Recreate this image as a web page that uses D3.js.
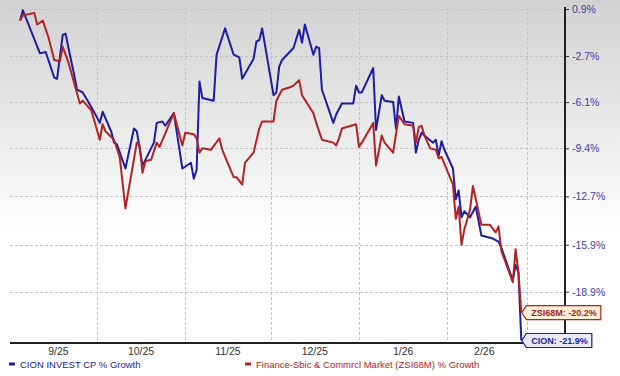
<!DOCTYPE html>
<html>
<head>
<meta charset="utf-8">
<script src="https://cdn.jsdelivr.net/npm/d3@7"></script>
<style>
  html, body { margin: 0; padding: 0; background: #fff; }
  svg { display: block; font-family: "Liberation Sans", Arial, sans-serif; }
</style>
</head>
<body>
<svg id="chart" width="620" height="376"></svg>
<script>
/* Data */
var tickValues = [0.9, -2.7, -6.1, -9.4, -12.7, -15.9, -18.9];
var monthStarts = ["2025-09-01", "2025-10-01", "2025-11-01", "2025-12-01", "2026-01-01", "2026-02-01", "2026-03-01"];
var monthLabels = ["9/25", "10/25", "11/25", "12/25", "1/26", "2/26"];
var seriesNames = ["CION INVEST CP % Growth", "Finance-Sbic & Commrcl Market (ZSI68M) % Growth"];
var shortNames = ["CION", "ZSI68M"];

var cionDates = ["2025-09-04", "2025-09-05", "2025-09-11", "2025-09-13", "2025-09-16", "2025-09-17", "2025-09-19", "2025-09-20",
    "2025-09-21", "2025-09-23", "2025-09-24", "2025-09-26", "2025-09-28", "2025-10-01", "2025-10-02", "2025-10-03",
    "2025-10-06", "2025-10-07", "2025-10-08", "2025-10-11", "2025-10-14", "2025-10-15", "2025-10-17", "2025-10-21",
    "2025-10-22", "2025-10-24", "2025-10-25", "2025-10-28", "2025-10-31", "2025-11-03", "2025-11-04", "2025-11-05",
    "2025-11-06", "2025-11-07", "2025-11-11", "2025-11-12", "2025-11-15", "2025-11-18", "2025-11-20", "2025-11-21",
    "2025-11-25", "2025-11-26", "2025-11-27", "2025-11-28", "2025-12-02", "2025-12-03", "2025-12-04", "2025-12-05",
    "2025-12-09", "2025-12-11", "2025-12-12", "2025-12-13", "2025-12-16", "2025-12-17", "2025-12-18", "2025-12-19",
    "2025-12-23", "2025-12-24", "2025-12-26", "2025-12-30", "2025-12-31", "2026-01-01", "2026-01-02", "2026-01-06",
    "2026-01-07", "2026-01-09", "2026-01-10", "2026-01-13", "2026-01-14", "2026-01-15", "2026-01-17", "2026-01-20",
    "2026-01-21", "2026-01-22", "2026-01-23", "2026-01-24", "2026-01-27", "2026-01-28", "2026-01-29", "2026-01-30",
    "2026-01-31", "2026-02-03", "2026-02-04", "2026-02-05", "2026-02-06", "2026-02-07", "2026-02-09", "2026-02-11",
    "2026-02-13", "2026-02-17", "2026-02-19", "2026-02-20", "2026-02-24", "2026-02-25", "2026-02-26", "2026-02-27"];
var cionValues = [0.0, 0.8, -2.5, -2.4, -4.3, -4.4, -1.1, -1.0,
    -2.1, -4.1, -5.2, -5.4, -6.1, -7.2, -7.6, -6.8,
    -8.2, -9.0, -9.1, -10.8, -8.0, -8.2, -10.6, -9.0,
    -7.6, -7.5, -7.8, -6.9, -10.8, -10.4, -11.5, -10.9,
    -4.6, -5.8, -6.0, -2.6, -0.6, -2.6, -2.8, -4.4,
    -2.9, -1.6, -1.5, -0.6, -5.6, -5.4, -3.5, -3.0,
    -2.1, -0.7, -1.7, -0.3, -2.6, -2.0, -2.1, -5.2,
    -7.6, -7.0, -6.2, -6.2, -4.9, -5.4, -5.4, -3.6,
    -8.1, -5.6, -6.0, -6.1, -8.0, -5.7, -7.5, -7.6,
    -9.7, -8.8, -8.3, -8.5, -9.0, -8.8, -9.9, -8.9,
    -9.5, -10.8, -12.9, -12.3, -14.1, -13.7, -14.1, -13.4,
    -15.3, -15.5, -15.7, -16.1, -18.2, -17.2, -17.7, -21.9];

var zsiDates = ["2025-09-04", "2025-09-05", "2025-09-09", "2025-09-10", "2025-09-12", "2025-09-14", "2025-09-16", "2025-09-18",
    "2025-09-19", "2025-09-21", "2025-09-23", "2025-09-25", "2025-09-26", "2025-09-29", "2025-10-02", "2025-10-03",
    "2025-10-04", "2025-10-07", "2025-10-09", "2025-10-11", "2025-10-15", "2025-10-16", "2025-10-17", "2025-10-18",
    "2025-10-20", "2025-10-22", "2025-10-23", "2025-10-28", "2025-10-31", "2025-11-01", "2025-11-04", "2025-11-05",
    "2025-11-06", "2025-11-07", "2025-11-10", "2025-11-13", "2025-11-14", "2025-11-18", "2025-11-19", "2025-11-21",
    "2025-11-22", "2025-11-25", "2025-11-27", "2025-11-28", "2025-12-02", "2025-12-03", "2025-12-05", "2025-12-08",
    "2025-12-09", "2025-12-11", "2025-12-12", "2025-12-16", "2025-12-17", "2025-12-19", "2025-12-23", "2025-12-24",
    "2025-12-25", "2025-12-26", "2025-12-31", "2026-01-01", "2026-01-02", "2026-01-06", "2026-01-07", "2026-01-09",
    "2026-01-10", "2026-01-13", "2026-01-15", "2026-01-17", "2026-01-20", "2026-01-21", "2026-01-22", "2026-01-23",
    "2026-01-24", "2026-01-26", "2026-01-28", "2026-01-29", "2026-01-30", "2026-02-03", "2026-02-04", "2026-02-05",
    "2026-02-06", "2026-02-07", "2026-02-09", "2026-02-10", "2026-02-13", "2026-02-16", "2026-02-18", "2026-02-19",
    "2026-02-20", "2026-02-24", "2026-02-25", "2026-02-26", "2026-02-27"];
var zsiValues = [0.0, 0.4, 0.6, -0.3, 0.0, -1.3, -3.0, -3.1,
    -2.0, -3.2, -4.7, -6.2, -6.0, -6.7, -8.8, -7.7,
    -8.2, -8.8, -10.0, -13.5, -9.0, -9.2, -11.1, -10.3,
    -10.2, -9.0, -9.3, -6.9, -9.2, -8.3, -8.4, -8.7,
    -9.7, -9.4, -9.5, -8.7, -9.5, -11.4, -11.4, -11.9,
    -10.4, -9.7, -8.0, -7.5, -7.5, -6.0, -5.2, -5.0,
    -4.9, -4.5, -5.6, -6.9, -7.6, -8.8, -9.0, -9.2,
    -8.7, -8.0, -7.7, -9.3, -9.0, -7.6, -10.6, -8.5,
    -9.0, -9.7, -7.1, -7.7, -7.8, -9.0, -7.9, -7.8,
    -8.5, -9.4, -9.5, -10.1, -10.0, -11.9, -14.2, -13.4,
    -15.9, -14.9, -13.6, -12.0, -14.6, -14.6, -15.1, -14.7,
    -16.3, -18.3, -16.2, -17.7, -20.2];

var colors = ["#1c1ca6", "#b42323"];

/* Layout */
var width = 620, height = 376;
var plot = { left: 10, right: 565, top: 7, bottom: 343 };
var parse = d3.timeParse("%Y-%m-%d");
// plain hyphen for negative numbers, like the original
var fmt = d3.formatLocale({ decimal: ".", thousands: ",", grouping: [3], currency: ["$", ""], minus: "-" }).format(".1f");

var svg = d3.select("#chart");

/* background gradient */
var defs = svg.append("defs");
var grad = defs.append("linearGradient")
    .attr("id", "bg")
    .attr("x1", 0).attr("y1", 0).attr("x2", 0).attr("y2", 1);
grad.append("stop").attr("offset", "0%").attr("stop-color", "#d2d2d2");
grad.append("stop").attr("offset", "25%").attr("stop-color", "#e3e3e3");
grad.append("stop").attr("offset", "62%").attr("stop-color", "#ffffff");
svg.append("rect")
    .attr("width", width).attr("height", height)
    .attr("fill", "url(#bg)");

/* Scales: the value axis is a log scale of the growth ratio */
var x = d3.scaleTime()
    .domain([parse(monthStarts[0]), parse(monthStarts[monthStarts.length - 1])])
    .range([11.5, 527]);
var y = d3.scaleLog()
    .domain([1 + tickValues[0] / 100, 1 + tickValues[tickValues.length - 1] / 100])
    .range([9, 291.7]);

function toPoints(dates, values) {
    return dates.map(function(d, i) { return { date: parse(d), value: values[i] }; });
}
var series = [toPoints(cionDates, cionValues), toPoints(zsiDates, zsiValues)];

/* gridlines */
var grid = svg.append("g").attr("stroke", "#c4c4c4").attr("stroke-dasharray", "3,2").attr("stroke-width", 1);
grid.selectAll(".hgrid")
    .data(tickValues)
    .enter().append("line")
    .attr("x1", plot.left).attr("x2", plot.right)
    .attr("y1", function(d) { return Math.round(y(1 + d / 100)) + 0.5; })
    .attr("y2", function(d) { return Math.round(y(1 + d / 100)) + 0.5; });
grid.selectAll(".vgrid")
    .data(monthStarts.slice(1))
    .enter().append("line")
    .attr("x1", function(d) { return Math.round(x(parse(d))) + 0.5; })
    .attr("x2", function(d) { return Math.round(x(parse(d))) + 0.5; })
    .attr("y1", plot.top).attr("y2", plot.bottom);

/* right axis */
var yAxis = d3.axisRight(y)
    .tickValues(tickValues.map(function(v) { return 1 + v / 100; }))
    .tickFormat(function(d) { return fmt((d - 1) * 100) + "%"; })
    .tickSize(4)
    .tickPadding(3);
var ya = svg.append("g")
    .attr("transform", "translate(" + plot.right + ",0)")
    .call(yAxis);
ya.select(".domain").remove();
ya.selectAll(".tick line").attr("stroke", "#333");
ya.selectAll(".tick text")
    .attr("fill", "#3d3dab")
    .style("font-size", "10.5px")
    .style("font-family", "'Liberation Sans', Arial, sans-serif");

/* month labels, centred on the part of each month covered by data */
var first = series[0][0].date, last = series[0][series[0].length - 1].date;
svg.append("g").selectAll("text")
    .data(monthLabels)
    .enter().append("text")
    .attr("x", function(d, i) {
        var a = Math.max(+parse(monthStarts[i]), +first);
        var b = Math.min(+parse(monthStarts[i + 1]), +last);
        return (x(a) + x(b)) / 2;
    })
    .attr("y", 355)
    .attr("text-anchor", "middle")
    .attr("fill", "#333")
    .style("font-size", "10.5px")
    .text(function(d) { return d; });

/* lines */
var line = d3.line()
    .x(function(d) { return x(d.date); })
    .y(function(d) { return y(1 + d.value / 100); });
svg.append("g").selectAll("path")
    .data(series)
    .enter().append("path")
    .attr("d", line)
    .attr("fill", "none")
    .attr("stroke", function(d, i) { return colors[i]; })
    .attr("stroke-width", 2)
    .attr("stroke-linejoin", "round");

/* axis lines */
svg.append("line")
    .attr("x1", plot.right).attr("x2", plot.right)
    .attr("y1", plot.top).attr("y2", plot.bottom + 1)
    .attr("stroke", "#222").attr("stroke-width", 2);
svg.append("line")
    .attr("x1", plot.left).attr("x2", plot.right + 1)
    .attr("y1", plot.bottom).attr("y2", plot.bottom)
    .attr("stroke", "#222").attr("stroke-width", 2);

/* end-value callouts */
var boxFill = ["#e9e9f8", "#fcf0d6"];
var textFill = ["#23239a", "#a51f1f"];
series.forEach(function(s, i) {
    var p = s[s.length - 1];
    var tx = x(p.date), ty = y(1 + p.value / 100);
    var g = svg.append("g");
    var path = g.append("path");
    var t = g.append("text")
        .attr("x", tx + 10)
        .attr("y", ty + 3.5)
        .attr("fill", textFill[i])
        .style("font-size", "9px")
        .style("font-weight", "bold")
        .text(shortNames[i] + ": " + fmt(p.value) + "%");
    var w = t.node().getComputedTextLength();
    var h = 14, r = tx + 10 + w + 4;
    path.attr("d", "M" + (tx + 0.5) + "," + ty +
            "L" + (tx + 5) + "," + (ty - h / 2) +
            "L" + r + "," + (ty - h / 2) +
            "L" + r + "," + (ty + h / 2) +
            "L" + (tx + 5) + "," + (ty + h / 2) + "Z")
        .attr("fill", boxFill[i])
        .attr("stroke", colors[i])
        .attr("stroke-width", 1.2);
});

/* legend */
var legendX = [9, 245];
var lg = svg.append("g").selectAll("g")
    .data(seriesNames)
    .enter().append("g")
    .attr("transform", function(d, i) { return "translate(" + legendX[i] + ",364)"; });
lg.append("rect")
    .attr("x", 0).attr("y", -1.5).attr("width", 6).attr("height", 3)
    .attr("fill", function(d, i) { return colors[i]; });
lg.append("text")
    .attr("x", 11).attr("y", 3.5)
    .attr("fill", function(d, i) { return colors[i]; })
    .style("font-size", "9.5px")
    .text(function(d) { return d; });
</script>
</body>
</html>
